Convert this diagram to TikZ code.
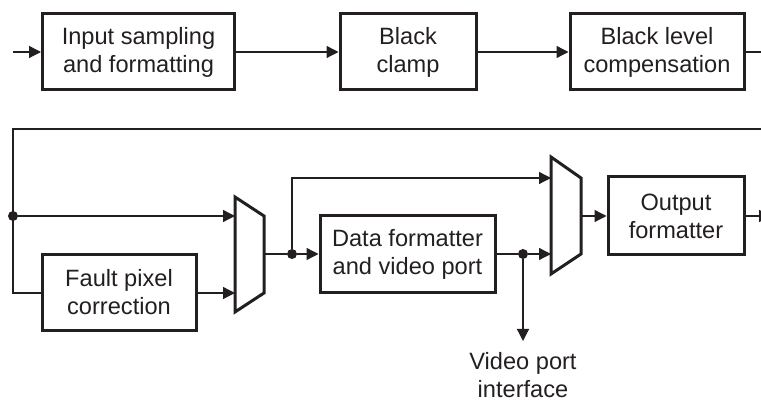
\documentclass[tikz,border=0pt]{standalone}
\usepackage{fontspec}
\setmainfont{Liberation Sans}
\usetikzlibrary{arrows.meta}
\definecolor{ink}{RGB}{35,31,32}
\begin{document}
\begin{tikzpicture}[x=0.5pt,y=-0.5pt,
  blk/.style={draw=ink,line width=1.5pt,align=center,inner sep=0pt,text=ink,
    font=\fontsize{11.8}{14}\selectfont},
  wire/.style={draw=ink,line width=0.65pt},
  arr/.style={wire,-{Triangle[length=6pt,width=6pt]}},
  muxs/.style={draw=ink,line width=1.5pt,line join=miter},
  dot/.style={circle,fill=ink,inner sep=0pt,minimum size=5pt},
  lbl/.style={align=center,text=ink,font=\fontsize{11.8}{14}\selectfont,inner sep=0pt}]
\useasboundingbox (0,0) rectangle (761,400);
% top row
\coordinate (in) at (13,52);
\node[blk,minimum width=96pt,minimum height=38pt] (b1) at (138.5,52) {Input sampling\\and formatting};
\node[blk,minimum width=68pt,minimum height=38pt] (b2) at (408,52) {Black\\clamp};
\node[blk,minimum width=87pt,minimum height=38pt] (b3) at (657,52) {Black level\\compensation};
\coordinate (topout) at (770,52);
\draw[arr] (in) -- (b1);
\draw[arr] (b1) -- (b2);
\draw[arr] (b2) -- (b3);
\draw[wire] (b3) -- (topout);
% second section
\coordinate (fbin) at (770,129);
\coordinate (lc) at (13,129);
\coordinate (lb) at (13,293);
\node[dot] (d1) at (13,216) {};
\node[blk,minimum width=77pt,minimum height=38pt] (fp) at (119,292.5) {Fault pixel\\correction};
% mux 1
\draw[muxs] (235,197) -- (264,216) -- (264,293) -- (235,312) -- cycle;
\coordinate (m1a) at (235,216);
\coordinate (m1b) at (235,293);
\coordinate (m1o) at (264,254);
\node[dot] (d2) at (292,254) {};
\node[blk,minimum width=87.5pt,minimum height=38.5pt] (df) at (407.5,254.5) {Data formatter\\and video port};
\node[dot] (d3) at (523,254) {};
% mux 2
\draw[muxs] (551,157) -- (581,178) -- (581,254) -- (551,274) -- cycle;
\coordinate (m2a) at (551,178);
\coordinate (m2b) at (551,254);
\coordinate (m2o) at (581,216);
\node[blk,minimum width=68pt,minimum height=39pt] (of) at (676,216) {Output\\formatter};
\coordinate (out) at (771,216);
\coordinate (vp) at (523,341);
\node[lbl] (vpl) at (523,375) {Video port\\interface};
% connectors
\draw[wire] (fbin) -- (lc) -- (lb) -- (fp.west |- lb);
\draw[arr] (d1) -- (m1a);
\draw[arr] (fp.east |- m1b) -- (m1b);
\draw[wire] (m1o) -- (d2);
\draw[arr] (d2) -- (df.west |- d2);
\draw[arr] (d2) |- (m2a);
\draw[wire] (df.east |- d3) -- (d3);
\draw[arr] (d3) -- (m2b);
\draw[arr] (d3) -- (vp);
\draw[arr] (m2o) -- (of);
\draw[arr] (of) -- (out);
\end{tikzpicture}
\end{document}
